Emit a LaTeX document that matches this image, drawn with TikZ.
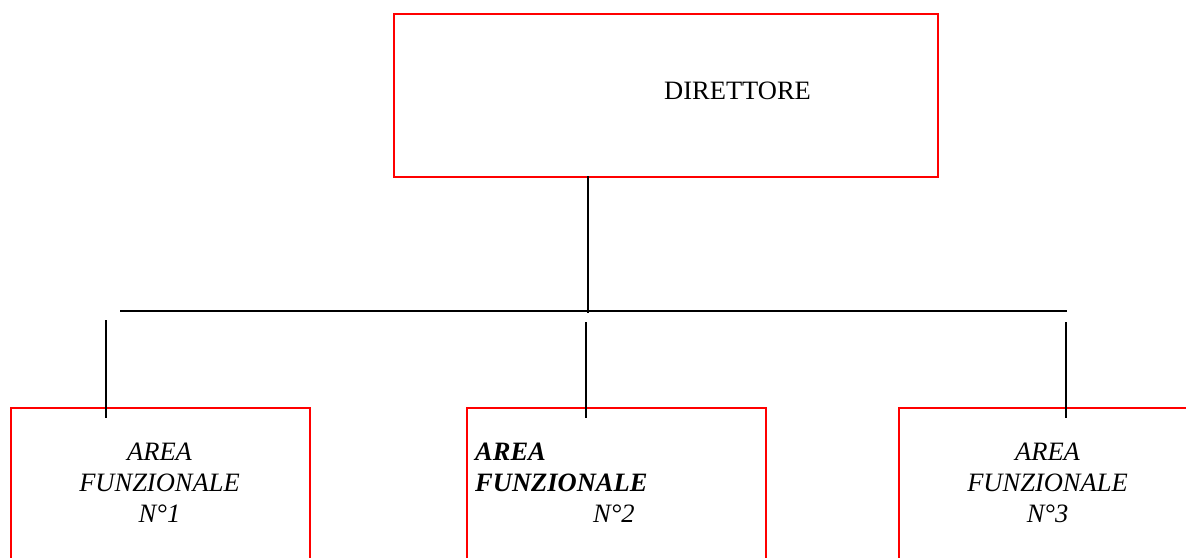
\documentclass[tikz,border=0pt]{standalone}
\usepackage{fontspec}
\setmainfont{Liberation Serif}
\begin{document}
\begin{tikzpicture}[x=1pt,y=-1pt,
  box/.style={draw=red, line width=2pt, inner sep=0pt, anchor=north west},
  conn/.style={draw=black, line width=2pt},
  lbl/.style={inner sep=0pt, font=\fontsize{26.5}{31}\selectfont}]
\useasboundingbox (0,0) rectangle (1186,557);
\clip (0,0) rectangle (1186,557);
% boxes
\node[box, minimum width=544pt, minimum height=163pt] (dir) at (393,13) {};
\node[box, minimum width=299pt, minimum height=200pt] (a1) at (10,407) {};
\node[box, minimum width=299pt, minimum height=200pt] (a2) at (466,407) {};
\node[box, minimum width=299pt, minimum height=200pt] (a3) at (898,407) {};
% labels
\node[lbl, anchor=base west] (dirlbl) at (664,99) {DIRETTORE};
\node[lbl, align=center, anchor=north] (l1) at (159.5,443) {\itshape AREA\\\itshape FUNZIONALE\\\itshape N°1};
\node[lbl, align=left, anchor=north west] (l2) at (475,443) {\itshape\bfseries AREA\\\itshape\bfseries FUNZIONALE\\\hspace*{118pt}\itshape N°2};
\node[lbl, align=center, anchor=north] (l3) at (1047.5,443) {\itshape AREA\\\itshape FUNZIONALE\\\itshape N°3};
% connector coordinates
\coordinate (top) at (588,176);
\coordinate (hub) at (588,313);
\coordinate (hl) at (120,311);
\coordinate (hr) at (1067,311);
\coordinate (d1t) at (106,320);
\coordinate (d1b) at (106,418);
\coordinate (d2t) at (586,322);
\coordinate (d2b) at (586,418);
\coordinate (d3t) at (1066,322);
\coordinate (d3b) at (1066,418);
% connectors
\draw[conn] (top) -- (hub);
\draw[conn] (hl) -- (hr);
\draw[conn] (d1t) -- (d1b);
\draw[conn] (d2t) -- (d2b);
\draw[conn] (d3t) -- (d3b);
\end{tikzpicture}
\end{document}
